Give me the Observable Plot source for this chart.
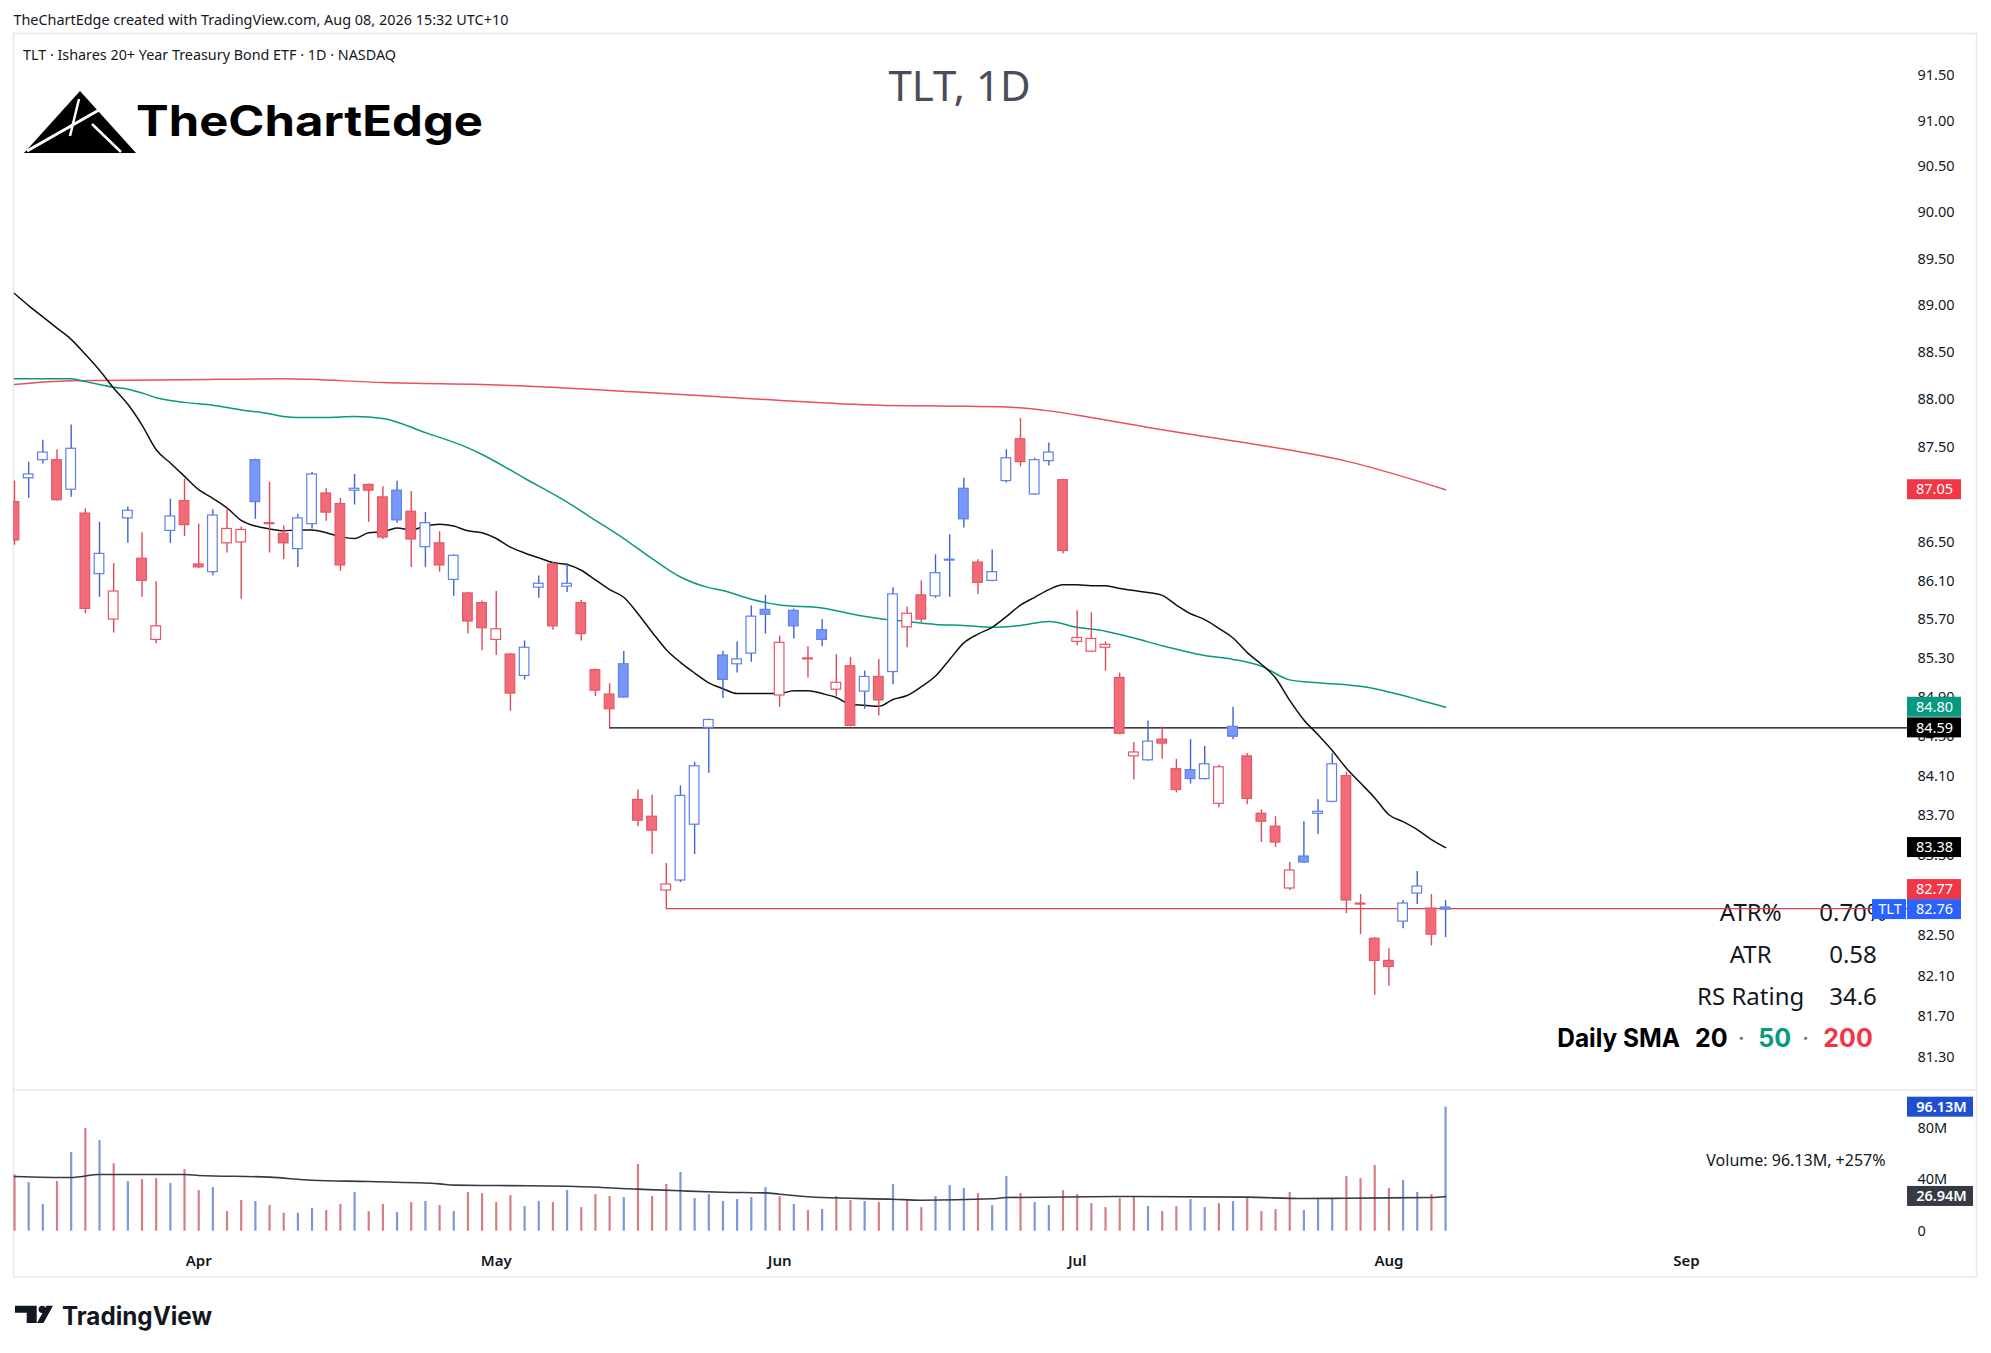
<!DOCTYPE html>
<html>
<head>
<meta charset="utf-8">
<script src="https://cdn.jsdelivr.net/npm/d3@7"></script>
<script src="https://cdn.jsdelivr.net/npm/@observablehq/plot@0.6"></script>
<style>
html,body{margin:0;padding:0;background:#fff;}
#root{position:relative;width:1991px;height:1353px;overflow:hidden;background:#fff;}
.abs{position:absolute;}
</style>
</head>
<body>
<div id="root"></div>
<script>
// ---------------- DATA ----------------
const headerText = "TheChartEdge created with TradingView.com, Aug 08, 2026 15:32 UTC+10";
const symbolText = "TLT · Ishares 20+ Year Treasury Bond ETF · 1D · NASDAQ";
const titleText = "TLT, 1D";
const brandText = "TheChartEdge";
const tvText = "TradingView";

const prevClose0 = 87.00;
const opens = [86.92,87.17,87.36,87.36,87.05,86.80,86.17,85.70,86.75,86.33,
85.49,86.62,86.93,86.27,86.19,86.49,86.50,87.36,86.70,86.59,
86.43,86.69,87.01,86.90,87.04,87.10,86.97,87.04,86.82,86.45,
86.49,86.11,85.97,85.87,85.49,85.34,85.12,86.03,86.27,86.04,
85.87,85.18,84.93,85.24,83.86,83.69,82.95,83.05,83.61,84.59,
85.33,85.24,85.35,85.80,84.92,85.79,85.30,85.59,84.98,85.22,
84.96,85.11,85.16,85.62,85.95,85.94,86.31,87.06,86.29,86.10,
87.14,87.58,87.00,87.35,87.15,85.47,85.37,85.41,85.10,84.30,
84.26,84.47,84.17,84.16,84.07,83.82,84.60,84.30,83.72,83.59,
82.97,83.29,83.72,83.84,84.10,82.82,82.47,82.25,82.64,82.92,
82.77,82.78];
const highs = [87.14,87.34,87.57,87.47,87.73,86.85,86.71,86.28,86.87,86.60,
86.09,86.95,87.16,86.69,86.84,86.85,86.66,87.37,87.13,86.67,
86.79,87.23,87.06,86.96,87.21,87.11,87.08,87.14,87.03,86.81,
86.61,86.37,85.98,85.89,85.99,85.35,85.48,86.15,86.29,86.28,
85.90,85.19,85.04,85.37,83.96,83.91,83.22,84.00,84.24,84.68,
85.37,85.47,85.84,85.95,85.53,85.81,85.42,85.70,85.34,85.31,
85.17,85.29,86.03,85.83,86.10,86.37,86.58,87.17,86.32,86.42,
87.47,87.80,87.38,87.54,87.16,85.79,85.77,85.47,85.15,84.44,
84.66,84.60,84.27,84.47,84.40,84.21,84.80,84.33,83.76,83.69,
83.23,83.64,83.86,84.33,84.14,82.91,82.48,82.37,82.85,83.14,
82.91,82.85];
const lows = [86.47,86.96,87.32,86.93,86.97,85.76,85.93,85.56,86.49,85.93,
85.45,86.49,86.56,86.23,86.15,86.39,85.91,86.74,86.39,86.32,
86.24,86.64,86.72,86.20,86.89,86.71,86.53,86.70,86.24,86.24,
86.19,85.94,85.55,85.38,85.33,84.76,85.08,85.92,85.59,85.98,
85.48,84.91,84.59,84.89,83.59,83.31,82.77,83.03,83.31,84.13,
84.89,85.15,85.26,85.55,84.80,85.50,85.10,85.42,84.91,84.60,
84.78,84.71,85.03,85.41,85.67,85.92,85.93,86.65,85.96,86.09,
87.12,87.29,86.99,87.30,86.38,85.43,85.36,85.17,84.52,84.06,
84.25,84.27,83.93,84.02,84.06,83.78,84.47,83.81,83.43,83.38,
82.95,83.22,83.51,83.83,82.72,82.51,81.91,82.00,82.57,82.81,
82.40,82.48];
const closes = [86.52,87.21,87.44,86.94,87.48,85.81,86.38,85.99,86.83,86.10,
85.63,86.77,86.68,86.24,86.78,86.64,86.63,86.92,86.69,86.49,
86.75,87.21,86.81,86.26,87.06,87.04,86.55,86.73,86.53,86.70,
86.26,86.36,85.68,85.61,85.60,84.94,85.41,86.07,85.63,86.07,
85.55,84.97,84.78,84.90,83.65,83.55,83.01,83.90,84.20,84.67,
85.08,85.29,85.73,85.75,85.46,85.63,85.29,85.49,85.05,84.61,
85.11,84.87,85.96,85.76,85.70,86.18,86.32,86.74,86.08,86.19,
87.38,87.34,87.36,87.44,86.41,85.51,85.50,85.44,84.53,84.34,
84.45,84.43,83.96,84.07,84.22,84.19,84.50,83.87,83.64,83.43,
83.15,83.23,83.74,84.22,82.85,82.81,82.25,82.19,82.82,82.99,
82.51,82.76];
const volumes = [43.7,37.7,20.7,38.5,61.0,79.6,70.3,52.2,38.5,40.1,
40.8,37.0,47.8,31.5,33.9,15.2,23.8,23.0,19.9,14.0,
14.0,17.6,16.0,20.7,30.0,15.2,20.7,14.5,22.2,23.0,
19.9,15.2,30.0,29.2,22.2,27.6,19.1,23.0,22.2,31.5,
18.3,28.4,26.9,26.1,51.7,26.9,36.2,45.5,25.3,28.4,
23.0,24.5,26.1,33.9,26.9,20.7,16.0,16.8,26.9,23.8,
23.0,22.2,36.2,24.5,18.3,26.9,35.4,33.1,29.2,19.9,
42.4,29.2,22.2,19.9,31.5,28.4,21.4,18.3,25.3,26.9,
19.1,15.2,19.1,24.5,18.3,21.4,23.0,26.1,15.2,16.8,
30.0,16.0,24.5,25.3,42.4,40.8,50.9,33.1,39.3,30.0,
28.4,96.13];

// Daily SMA 20 (per bar), SMA 50 and SMA 200 (sampled), volume MA (sampled)
const sma20 = [89.13,89.00,88.88,88.76,88.64,88.48,88.31,88.12,87.95,87.73,
87.47,87.33,87.19,87.05,86.96,86.86,86.73,86.67,86.64,86.62,
86.63,86.63,86.60,86.56,86.54,86.60,86.61,86.65,86.63,86.67,
86.69,86.67,86.62,86.60,86.54,86.45,86.39,86.34,86.29,86.27,
86.21,86.11,86.01,85.93,85.76,85.57,85.39,85.26,85.15,85.05,
84.99,84.94,84.94,84.94,84.94,84.97,84.97,84.94,84.90,84.83,
84.82,84.81,84.88,84.92,85.01,85.12,85.29,85.46,85.55,85.62,
85.73,85.85,85.93,86.01,86.06,86.06,86.05,86.05,86.02,86.00,
85.98,85.95,85.85,85.76,85.70,85.61,85.51,85.36,85.24,85.10,
84.87,84.67,84.52,84.36,84.18,84.03,83.88,83.71,83.64,83.56,
83.46,83.38];
const sma50Idx = [0,2,4,5,6,7,8,9,10,12,14,16,18,19,20,22,24,26,29,32,33,36,39,41,43,45,47,49,50,52,54,57,59,61,63,65,67,69,71,73,75,77,79,81,84,86,88,90,92,94,96,98,99,101];
const sma50Val = [88.22,88.22,88.22,88.19,88.16,88.13,88.11,88.07,88.02,87.97,87.94,87.89,87.85,87.82,87.81,87.81,87.82,87.80,87.65,87.49,87.42,87.17,86.92,86.73,86.54,86.33,86.14,86.03,86.00,85.91,85.85,85.82,85.76,85.71,85.68,85.65,85.64,85.62,85.64,85.68,85.62,85.58,85.51,85.43,85.33,85.29,85.22,85.08,85.05,85.03,84.99,84.92,84.88,84.80];
const sma200Idx = [0,4,12,19,26,35,44,53,61,66,70,73,76,81,87,94,101];
const sma200Val = [88.16,88.20,88.21,88.22,88.18,88.15,88.08,88.00,87.94,87.93,87.92,87.88,87.81,87.68,87.54,87.35,87.05];
const volMaIdx = [0,4,6,12,13,18,21,25,30,31,34,39,44,47,50,53,54,57,62,64,69,70,79,87,91,94,100,101];
const volMaVal = [42.4,41.6,43.9,43.9,43.2,41.9,39.5,38.5,36.7,35.7,35.4,34.9,32.6,31.3,30.2,29.7,28.7,26.1,24.8,24.0,25.1,26.1,26.9,26.4,25.3,25.6,26.1,26.94];

// horizontal levels (price, starting bar)
const levelPrices = [84.59, 82.77];
const levelStart = [42, 46];

// axis ticks (87.00 and 82.90 sit fully under price badges in the reference)
const priceTicks = [91.5,91,90.5,90,89.5,89,88.5,88,87.5,86.5,86.1,85.7,85.3,84.9,84.5,84.1,83.7,83.3,82.5,82.1,81.7,81.3];
const volTicks = [0,40,80];
const monthLabels = ["Apr","May","Jun","Jul","Aug","Sep"];
const monthIdx = [13,34,54,75,97,118];

// price badges
const badgeLabels = ["87.05","84.80","84.59","83.38","82.77","82.76"];
const badgeValues = [87.05,84.80,84.59,83.38,82.77,82.76];
const badgeColors = ["#f23645","#089981","#000000","#000000","#f23645","#2962ff"];
const badgeShift = [0,0,0,0,-19,0];
const tagLabel = "TLT";
const volBadgeLabels = ["96.13M","26.94M"];
const volBadgeValues = [96.13, 26.94];
const volBadgeColors = ["#1f4fd1","#363a45"];
const volumeLegend = "Volume: 96.13M, +257%";

const statLabels = ["ATR%","ATR","RS Rating"];
const statValues = ["0.70%","0.58","34.6"];

// ---------------- STYLE ----------------
const C = {
  upFill:"#7898fb", upStroke:"#5d80ea", upWick:"#3d63d4",
  dnFill:"#f26b79", dnStroke:"#e55766", dnWick:"#dd4b5b",
  volUp:"#7d97d8", volDn:"#d67e88",
  sma20:"#111111", sma50:"#089981", sma200:"#e8505d",
  text:"#131722"
};
const FONT = "'Noto Sans', 'Liberation Sans', sans-serif";

const candles = d3.range(opens.length).map(i => ({
  i, o: opens[i], h: highs[i], l: lows[i], c: closes[i], v: volumes[i],
  up: closes[i] >= (i ? closes[i-1] : prevClose0),
  hollow: closes[i] > opens[i]
}));
const sma20Pts = sma20.map((v,i)=>({i, v}));
const sma50Pts = sma50Idx.map((i,k)=>({i, v: sma50Val[k]}));
const sma200Pts = sma200Idx.map((i,k)=>({i, v: sma200Val[k]}));
const volMaPts = volMaIdx.map((i,k)=>({i, v: volMaVal[k]}));
const levels = levelPrices.map((p,k)=>({p, from: levelStart[k], color: k===0 ? "#000000" : "#d9434f"}));
const badges = badgeLabels.map((t,k)=>({t, v: badgeValues[k], bg: badgeColors[k], shift: badgeShift[k]}));
const volBadges = volBadgeLabels.map((t,k)=>({t, v: volBadgeValues[k], bg: volBadgeColors[k]}));
const months = monthLabels.map((t,k)=>({t, i: monthIdx[k]}));
const lastBadge = badges[badges.length-1];

const XMAX = 133.6;
const xScale = {type:"linear", domain:[0, XMAX], range:[1, 1894], axis:null};

// ---------------- DECORATION ----------------
const root = document.getElementById("root");
const deco = document.createElement("div");
deco.className = "abs"; deco.style.left = "0px"; deco.style.top = "0px";
deco.innerHTML = `
<svg width="1991" height="1353" xmlns="http://www.w3.org/2000/svg" style="font-family:${FONT.replace(/'/g,'&quot;')}">
  <rect x="13.5" y="33.5" width="1963" height="1243.5" fill="none" stroke="#e6e8ee" stroke-width="1.5"/>
  <line x1="13" x2="1977" y1="1090" y2="1090" stroke="#e6e8ee" stroke-width="1.5"/>
  <text x="13.4" y="25" font-size="14" fill="${C.text}" textLength="495" lengthAdjust="spacingAndGlyphs">${headerText}</text>
  <text x="23" y="60" font-size="14" fill="${C.text}" textLength="373" lengthAdjust="spacingAndGlyphs">${symbolText}</text>
  <g transform="translate(0,2)">
    <path d="M24,151 L80,89 L136,151 Z" fill="#000"/>
    <path d="M27,149 L106,104" stroke="#fff" stroke-width="3" fill="none"/>
    <path d="M79,97 L70,134" stroke="#fff" stroke-width="2.5" fill="none"/>
    <path d="M92,122 L121,150" stroke="#fff" stroke-width="2.5" fill="none"/>
  </g>
  <text x="136" y="135.5" font-family="Inter, sans-serif" font-weight="700" font-size="42" fill="#000" textLength="347" lengthAdjust="spacingAndGlyphs">${brandText}</text>
  <text x="959.5" y="101" text-anchor="middle" font-size="42" fill="#4a4d57">${titleText}</text>
  ${statLabels.map((t,k)=>`<text x="1750.7" y="${920.5 + k*42.2}" text-anchor="middle" font-size="24" fill="${C.text}">${t}</text>`).join("")}
  ${statValues.map((t,k)=>`<text x="1853" y="${920.5 + k*42.2}" text-anchor="middle" font-size="24" fill="${C.text}">${t}</text>`).join("")}
  <g font-family="Inter, sans-serif" font-weight="700" font-size="25">
    <text x="1557.3" y="1047" fill="#000" textLength="122.7" lengthAdjust="spacingAndGlyphs">Daily SMA</text>
    <text x="1695" y="1047" fill="#000">20</text>
    <text x="1741.3" y="1047" text-anchor="middle" fill="#777" font-weight="400">·</text>
    <text x="1758.3" y="1047" fill="${C.sma50}">50</text>
    <text x="1805.7" y="1047" text-anchor="middle" fill="#777" font-weight="400">·</text>
    <text x="1823.3" y="1047" fill="#f23645">200</text>
  </g>
  <g fill="#131722">
    <path d="M15,1305.7 H36.7 V1323 H26.7 V1312.7 H15 Z"/>
    <circle cx="42.2" cy="1309.3" r="3.6"/>
    <path d="M46.5,1305.7 H53 L43.5,1323 H37 Z"/>
  </g>
  <text x="62" y="1324.5" font-family="Inter, sans-serif" font-weight="700" font-size="25" fill="#131722" textLength="150" lengthAdjust="spacingAndGlyphs">${tvText}</text>
</svg>`;
root.appendChild(deco);

// ---------------- PRICE PANE ----------------
const price = Plot.plot({
  width: 1964, height: 1056,
  marginLeft: 0, marginRight: 70, marginTop: 0, marginBottom: 0,
  x: xScale,
  y: {type:"log", domain:[80.977, 91.953], range:[1056, 0], axis:null},
  color: {type:"identity"},
  style: {background:"transparent", overflow:"hidden", fontFamily: FONT, fontSize:"14.5px", color: C.text},
  marks: [
    Plot.line(sma200Pts, {x:"i", y:"v", stroke: C.sma200, strokeWidth:1.5, curve:"monotone-x"}),
    Plot.line(sma50Pts, {x:"i", y:"v", stroke: C.sma50, strokeWidth:1.5, curve:"monotone-x"}),
    Plot.line(sma20Pts, {x:"i", y:"v", stroke: C.sma20, strokeWidth:1.5, curve:"monotone-x"}),
    Plot.ruleY(levels, {y:"p", x1:"from", x2: XMAX, stroke:"color", strokeWidth:1.3}),
    Plot.ruleX(candles, {x:"i", y1:"l", y2:"h", stroke: d => d.up ? C.upWick : C.dnWick, strokeWidth:1.4}),
    Plot.rect(candles, {x1: d => d.i - 0.34, x2: d => d.i + 0.34, y1:"o", y2:"c",
      fill: d => d.hollow ? "#ffffff" : (d.up ? C.upFill : C.dnFill),
      stroke: d => d.up ? C.upStroke : C.dnStroke, strokeWidth:1.2}),
    Plot.axisY(priceTicks, {anchor:"right", tickSize:0, tickPadding:10, tickFormat: d => d.toFixed(2), label:null}),
    Plot.rect(badges.filter(d => !d.shift), {x1: XMAX, x2: XMAX, y1:"v", y2:"v", insetLeft:0, insetRight:-54, insetTop:-10, insetBottom:-10, fill:"bg"}),
    Plot.text(badges.filter(d => !d.shift), {x: XMAX, y:"v", text:"t", dx:27, fill:"#ffffff"}),
    Plot.rect(badges.filter(d => d.shift), {x1: XMAX, x2: XMAX, y1:"v", y2:"v", insetLeft:0, insetRight:-54, insetTop:-10, insetBottom:-10, fill:"bg", dy: badgeShift[4]}),
    Plot.text(badges.filter(d => d.shift), {x: XMAX, y:"v", text:"t", dx:27, dy: badgeShift[4], fill:"#ffffff"}),
    Plot.rect([lastBadge], {x1: XMAX, x2: XMAX, y1:"v", y2:"v", insetLeft:-35, insetRight:1, insetTop:-10, insetBottom:-10, fill:"bg"}),
    Plot.text([lastBadge], {x: XMAX, y:"v", text: () => tagLabel, dx:-17.5, fill:"#ffffff"})
  ]
});
const pw = document.createElement("div");
pw.className = "abs"; pw.style.left = "13px"; pw.style.top = "34px";
pw.appendChild(price);
root.appendChild(pw);

// ---------------- VOLUME PANE ----------------
const vol = Plot.plot({
  width: 1964, height: 187,
  marginLeft: 0, marginRight: 70, marginTop: 0, marginBottom: 46.3,
  x: xScale,
  y: {domain:[0, 109.07], range:[140.7, 0], axis:null},
  color: {type:"identity"},
  style: {background:"transparent", overflow:"hidden", fontFamily: FONT, fontSize:"14.5px", color: C.text},
  marks: [
    Plot.ruleX(candles, {x:"i", y1:0, y2:"v", stroke: d => d.up ? C.volUp : C.volDn, strokeWidth:2.2}),
    Plot.line(volMaPts, {x:"i", y:"v", stroke:"#363a45", strokeWidth:1.6, curve:"monotone-x"}),
    Plot.axisY(volTicks, {anchor:"right", tickSize:0, tickPadding:10, tickFormat: d => d ? d + "M" : "0", label:null}),
    Plot.rect(volBadges, {x1: XMAX, x2: XMAX, y1:"v", y2:"v", insetLeft:0, insetRight:-66, insetTop:-10, insetBottom:-10, fill:"bg"}),
    Plot.text(volBadges, {x: XMAX, y:"v", text:"t", dx:34, fill:"#ffffff", fontWeight:600}),
    Plot.text([volumeLegend], {text: d => d, frameAnchor:"top-right", dx:-22, dy:64, textAnchor:"end", fontSize:16, fill: C.text}),
    Plot.text(months, {x:"i", text:"t", frameAnchor:"bottom", dy:35, fontWeight:600, fontSize:15, fill: C.text})
  ]
});
const vw = document.createElement("div");
vw.className = "abs"; vw.style.left = "13px"; vw.style.top = "1090px";
vw.appendChild(vol);
root.appendChild(vw);
</script>
</body>
</html>
